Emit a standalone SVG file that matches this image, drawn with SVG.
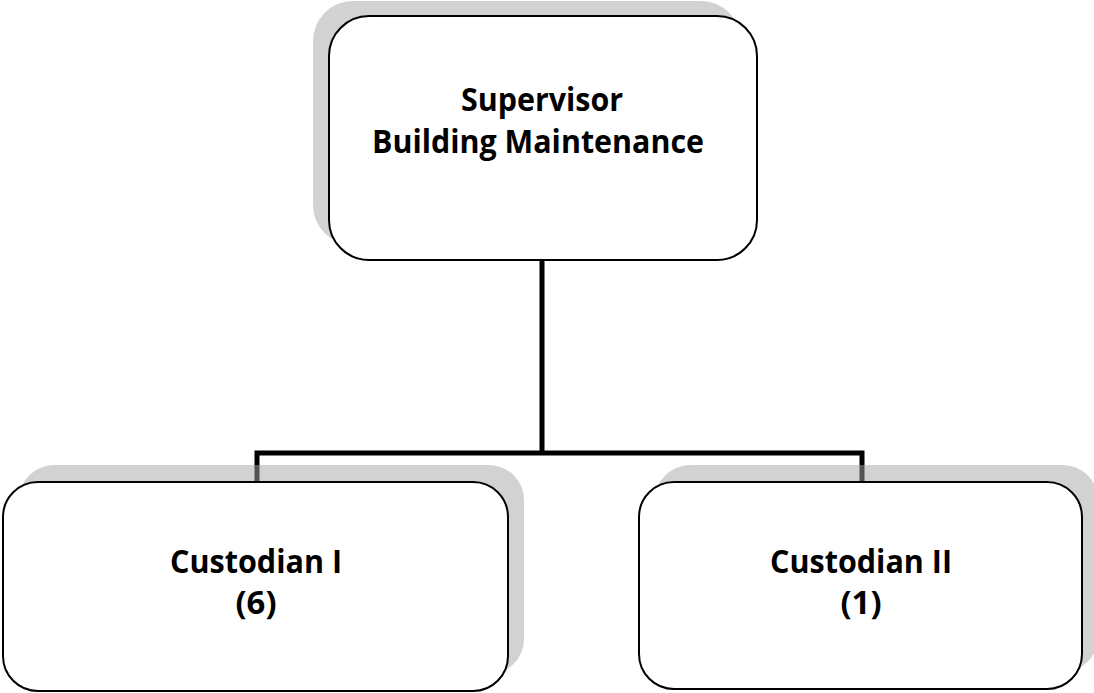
<svg xmlns="http://www.w3.org/2000/svg" width="1094" height="693" viewBox="0 0 1094 693">
<style>
.shadow{fill:#a6a6a6;fill-opacity:0.5;stroke:none}
.box{fill:#ffffff;stroke:#000000;stroke-width:2}
.conn{fill:none;stroke:#000000;stroke-width:5;stroke-linecap:butt;stroke-linejoin:miter}
.lbl{font-family:"Open Sans","Noto Sans","Liberation Sans",sans-serif;font-weight:bold;font-size:32px;fill:#000000;text-anchor:middle}
</style>
<rect width="1094" height="693" fill="#ffffff"/>
<g id="connectors">
<path class="conn" d="M542,260 V453"/>
<path class="conn" d="M257,484 V453 H862 V484"/>
</g>
<g id="supervisor">
<rect class="shadow" x="313" y="1" width="428" height="244" rx="40" ry="40"/>
<rect class="box" x="329" y="16" width="428" height="244" rx="40" ry="40"/>
<text class="lbl" x="542" y="111" textLength="162" lengthAdjust="spacingAndGlyphs">Supervisor</text>
<text class="lbl" x="538" y="153" textLength="332" lengthAdjust="spacingAndGlyphs">Building Maintenance</text>
</g>
<g id="custodian1">
<rect class="shadow" x="19" y="465" width="505" height="209" rx="35" ry="35"/>
<rect class="box" x="3" y="482" width="505" height="209" rx="35" ry="35"/>
<text class="lbl" x="256" y="573" textLength="172" lengthAdjust="spacingAndGlyphs">Custodian I</text>
<text class="lbl" x="256" y="614" textLength="41" lengthAdjust="spacingAndGlyphs">(6)</text>
</g>
<g id="custodian2">
<rect class="shadow" x="655" y="465" width="443" height="207" rx="35" ry="35"/>
<rect class="box" x="639" y="482" width="443" height="207" rx="35" ry="35"/>
<text class="lbl" x="861" y="573" textLength="182" lengthAdjust="spacingAndGlyphs">Custodian II</text>
<text class="lbl" x="861" y="614" textLength="41" lengthAdjust="spacingAndGlyphs">(1)</text>
</g>
</svg>
